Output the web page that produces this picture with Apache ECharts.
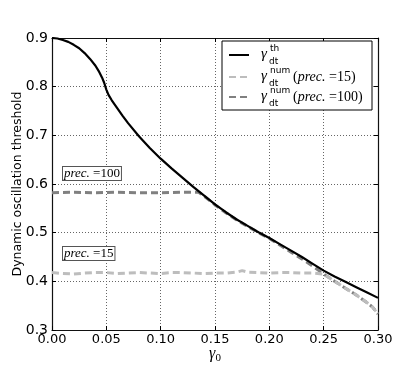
<!DOCTYPE html>
<html>
<head>
<meta charset="utf-8">
<script src="https://cdn.jsdelivr.net/npm/echarts@6/dist/echarts.min.js"></script>
<style>
  html, body { margin: 0; padding: 0; background: #fff; }
  #chart { width: 420px; height: 367px; }
</style>
</head>
<body>
<div id="chart"></div>
<script>
"use strict";

// theoretical threshold
var thX = [0, 0.005, 0.01, 0.015, 0.02, 0.025, 0.03, 0.035, 0.04, 0.043, 0.046, 0.048, 0.05, 0.052, 0.055,
           0.06, 0.065, 0.07, 0.08, 0.09, 0.10,
           0.11, 0.12, 0.13, 0.14, 0.15, 0.16, 0.17, 0.18, 0.19, 0.20, 0.21, 0.22, 0.23, 0.24,
           0.25, 0.26, 0.27, 0.28, 0.29, 0.30];
var thY = [0.900, 0.899, 0.896, 0.892, 0.886, 0.879, 0.869, 0.857, 0.843, 0.832, 0.819, 0.808, 0.794, 0.783, 0.772,
           0.756, 0.740, 0.725, 0.698, 0.674, 0.652,
           0.632, 0.613, 0.594, 0.576, 0.558, 0.542, 0.527, 0.514, 0.501, 0.489, 0.476, 0.463, 0.450, 0.436,
           0.422, 0.410, 0.399, 0.388, 0.377, 0.366];

// numerical threshold, prec. = 100
var p100X = [0, 0.02, 0.04, 0.06, 0.08, 0.10, 0.12, 0.135, 0.14, 0.15, 0.16, 0.17, 0.18, 0.19, 0.20,
             0.21, 0.22, 0.23, 0.24, 0.25, 0.26, 0.27, 0.28, 0.29, 0.295, 0.30];
var p100Y = [0.582, 0.583, 0.582, 0.583, 0.582, 0.582, 0.583, 0.583, 0.575, 0.557, 0.541, 0.526, 0.513, 0.500, 0.488,
             0.474, 0.460, 0.446, 0.431, 0.415, 0.400, 0.386, 0.372, 0.356, 0.347, 0.333];

// numerical threshold, prec. = 15
var p15X = [0, 0.01, 0.02, 0.03, 0.04, 0.05, 0.06, 0.07, 0.08, 0.09, 0.10, 0.11, 0.12, 0.13, 0.14,
            0.15, 0.16, 0.17, 0.175, 0.18, 0.19, 0.20, 0.21, 0.22, 0.23, 0.24, 0.25,
            0.26, 0.27, 0.28, 0.29, 0.295, 0.30];
var p15Y = [0.418, 0.416, 0.415, 0.417, 0.418, 0.418, 0.416, 0.417, 0.418, 0.417, 0.416, 0.418, 0.418, 0.417, 0.416,
            0.417, 0.417, 0.419, 0.422, 0.419, 0.418, 0.417, 0.418, 0.418, 0.417, 0.417, 0.415,
            0.400, 0.386, 0.372, 0.356, 0.347, 0.333];

function pairs(xs, ys) {
    var out = [];
    for (var i = 0; i < xs.length; i++) {
        out.push([xs[i], ys[i]]);
    }
    return out;
}

var serif = "'Liberation Serif', 'DejaVu Serif', serif";
var sans = "'DejaVu Sans', sans-serif";
var gridLine = { show: true, lineStyle: { color: '#666', type: [1, 2], width: 1 } };
var tick = { show: true, inside: true, length: 4, lineStyle: { color: '#000' } };
var spine = { show: true, onZero: false, lineStyle: { color: '#111', width: 1.2 } };

// legend text: gamma with stacked super/subscript
function legendText(y, sup, extra) {
    var items = [
        { type: 'text', left: 261, top: y - 9, z: 10,
          style: { text: 'γ', font: 'italic 15px ' + serif, fill: '#000' } },
        { type: 'text', left: 270, top: y - 12, z: 10,
          style: { text: sup, font: '9px ' + sans, fill: '#000' } },
        { type: 'text', left: 269, top: y + 1, z: 10,
          style: { text: 'dt', font: '9px ' + sans, fill: '#000' } }
    ];
    if (extra) {
        items.push({ type: 'text', left: 293, top: y - 8, z: 10,
            style: {
                text: '{r|(}{i|prec.}{r| =' + extra + ')}',
                rich: {
                    r: { font: '14px ' + serif, fill: '#000' },
                    i: { font: 'italic 14px ' + serif, fill: '#000' }
                }
            } });
    }
    return items;
}

function boxLabel(x, y, txt) {
    return { type: 'text', left: x, top: y, z: 10,
        style: {
            text: '{i|prec.}{r| =' + txt + '}',
            rich: {
                i: { font: 'italic 13px ' + serif, fill: '#000' },
                r: { font: '13px ' + serif, fill: '#000' }
            },
            backgroundColor: '#fff',
            borderColor: '#555',
            borderWidth: 1,
            padding: [0, 1, 0, 1]
        } };
}

var graphics = [
    { type: 'rect', z: 5, shape: { x: 222, y: 41, width: 150, height: 69 },
      style: { fill: '#fff', stroke: '#000', lineWidth: 1 } }
];
graphics = graphics.concat(legendText(56, 'th'), legendText(78, 'num', '15'), legendText(98, 'num', '100'));
graphics.push(boxLabel(62, 166, '100'));
graphics.push(boxLabel(62, 246, '15'));

var legendBase = {
    left: 228, z: 20, padding: 0, itemWidth: 20, itemHeight: 14,
    itemStyle: { opacity: 0 },
    formatter: function () { return ''; }
};

var option = {
    animation: false,
    backgroundColor: '#fff',
    grid: { left: 52, right: 42, top: 38, bottom: 37, outerBoundsMode: 'none', containLabel: false },
    legend: [
        Object.assign({ data: ['th'], top: 48 }, legendBase),
        Object.assign({ data: ['p15'], top: 70 }, legendBase),
        Object.assign({ data: ['p100'], top: 90 }, legendBase)
    ],
    xAxis: [
        {
            type: 'value', min: 0, max: 0.3, interval: 0.05,
            name: '{g|γ}{s|0}', nameLocation: 'middle', nameGap: 14, nameMoveOverlap: false,
            nameTextStyle: {
                rich: {
                    g: { fontFamily: serif, fontStyle: 'italic', fontSize: 16, color: '#000' },
                    s: { fontFamily: serif, fontSize: 11, color: '#000', padding: [9, 0, 0, 0] }
                }
            },
            axisLine: spine, axisTick: tick, splitLine: gridLine,
            axisLabel: { color: '#000', fontFamily: sans, fontSize: 13, margin: 3,
                formatter: function (v) { return v.toFixed(2); } }
        },
        {
            type: 'value', min: 0, max: 0.3, interval: 0.05, position: 'top',
            axisLine: spine, axisTick: tick, splitLine: { show: false }, axisLabel: { show: false }
        }
    ],
    yAxis: [
        {
            type: 'value', min: 0.3, max: 0.9, interval: 0.1,
            name: 'Dynamic oscillation threshold', nameLocation: 'middle', nameGap: 28, nameMoveOverlap: false,
            nameTextStyle: { color: '#000', fontFamily: sans, fontSize: 12.5 },
            axisLine: spine, axisTick: tick, splitLine: gridLine,
            axisLabel: { color: '#000', fontFamily: sans, fontSize: 14, margin: 4,
                formatter: function (v) { return v.toFixed(1); } }
        },
        {
            type: 'value', min: 0.3, max: 0.9, interval: 0.1, position: 'right',
            axisLine: spine, axisTick: tick, splitLine: { show: false }, axisLabel: { show: false }
        }
    ],
    series: [
        {
            name: 'th', type: 'line', data: pairs(thX, thY), symbol: 'none', z: 4,
            lineStyle: { color: '#000', width: 2.2 }, itemStyle: { color: '#000' }
        },
        {
            name: 'p100', type: 'line', data: pairs(p100X, p100Y), symbol: 'none', z: 3,
            lineStyle: { color: '#808080', width: 3, type: [7, 4] }, itemStyle: { color: '#808080' }
        },
        {
            name: 'p15', type: 'line', data: pairs(p15X, p15Y), symbol: 'none', z: 3,
            lineStyle: { color: '#bdbdbd', width: 3, type: [7, 4] }, itemStyle: { color: '#bdbdbd' }
        }
    ],
    graphic: graphics
};

var myChart = echarts.init(document.getElementById('chart'));
myChart.setOption(option);
</script>
</body>
</html>
